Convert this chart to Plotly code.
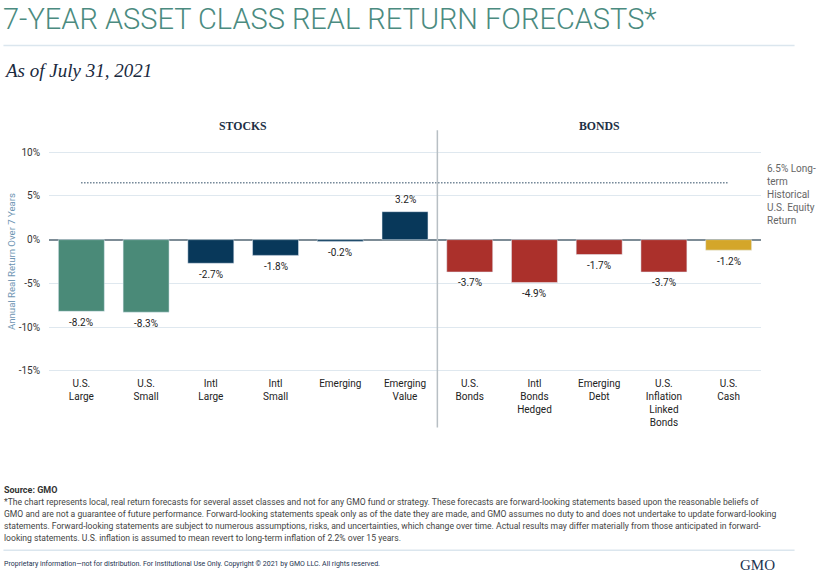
import plotly.graph_objects as go

categories = ["U.S.<br>Large", "U.S.<br>Small", "Intl<br>Large", "Intl<br>Small", "Emerging",
              "Emerging<br>Value", "U.S.<br>Bonds", "Intl<br>Bonds<br>Hedged", "Emerging<br>Debt",
              "U.S.<br>Inflation<br>Linked<br>Bonds", "U.S.<br>Cash"]
values = [-8.2, -8.3, -2.7, -1.8, -0.2, 3.2, -3.7, -4.9, -1.7, -3.7, -1.2]
bar_colors = ["#4a8a78", "#4a8a78", "#08385a", "#08385a", "#08385a", "#08385a",
              "#ab302b", "#ab302b", "#ab302b", "#ab302b", "#d4a62a"]
benchmark = 6.5
ytick_vals = [-15, -10, -5, 0, 5, 10]
ytick_text = ["-15%", "-10%", "-5%", "0%", "5%", "10%"]
group_labels = ["STOCKS", "BONDS"]
group_centers = [2.5, 8]
foot_lines = [
    "*The chart represents local, real return forecasts for several asset classes and not for any GMO fund or strategy. "
    "These forecasts are forward-looking statements based upon the reasonable beliefs of",
    "GMO and are not a guarantee of future performance. Forward-looking statements speak only as of the date they are made, "
    "and GMO assumes no duty to and does not undertake to update forward-looking",
    "statements. Forward-looking statements are subject to numerous assumptions, risks, and uncertainties, which change over time. "
    "Actual results may differ materially from those anticipated in forward-",
    "looking statements. U.S. inflation is assumed to mean revert to long-term inflation of 2.2% over 15 years.",
]

W, H = 818, 582
L, R, T, B = 48.6, 56.6, 146.7, 205.7
PW, PH = W - L - R, H - T - B


def px(x):
    return (x - L) / PW


def py(y):
    return (H - B - y) / PH


SANS = "Roboto, Arial, sans-serif"
SERIF = "Liberation Serif, serif"

fig = go.Figure()
fig.add_trace(go.Bar(
    x=categories, y=values, marker_color=bar_colors, width=0.71,
    cliponaxis=False, hoverinfo="skip"))
fig.add_trace(go.Scatter(
    x=[categories[0], categories[-1]], y=[benchmark, benchmark], mode="lines",
    line=dict(color="#2c4a62", width=1.5, dash="1px,2px"), hoverinfo="skip"))

for c, v in zip(categories, values):
    fig.add_annotation(x=c, y=v, xref="x", yref="y", text=f"{v:.1f}%", showarrow=False,
                       yanchor="middle", xanchor="center", yshift=12 if v > 0 else -11,
                       font=dict(family=SANS, size=10, color="#222"))

fig.update_layout(
    width=W, height=H, margin=dict(l=L, r=R, t=T, b=B, autoexpand=False),
    plot_bgcolor="white", paper_bgcolor="white", showlegend=False,
    font=dict(family=SANS, color="#333"),
    xaxis=dict(showgrid=False, ticks="", tickfont=dict(size=10, color="#222"),
               range=[-0.5, 10.5], tickangle=0),
    yaxis=dict(range=[-15.6, 10.6], tickvals=ytick_vals, ticktext=ytick_text,
               showgrid=True, gridcolor="#dfe8ef", gridwidth=1,
               zeroline=True, zerolinecolor="#7d8c96", zerolinewidth=1.5,
               tickfont=dict(size=10, color="#333"), ticklabelstandoff=8,
               title=dict(text="Annual Real Return Over 7 Years",
                          font=dict(size=9.6, color="#6e95b3"), standoff=1)),
)

# group separator
sep = 6 / 11
fig.add_shape(type="line", xref="paper", yref="paper", x0=sep, x1=sep,
              y0=py(130), y1=py(428), line=dict(color="#b8bfc4", width=1.5))

for lab, c in zip(group_labels, group_centers):
    fig.add_annotation(x=(c + 0.5) / 11, y=py(126), xref="paper", yref="paper",
                       xanchor="center", yanchor="middle",
                       text=f"<b>{lab}</b>", showarrow=False,
                       font=dict(family=SERIF, size=11.8, color="#1c2f45"))

fig.add_annotation(x=px(765), y=py(161), xref="paper", yref="paper", xanchor="left", yanchor="top",
                   text="6.5% Long-<br>term<br>Historical<br>U.S. Equity<br>Return", align="left",
                   showarrow=False, font=dict(size=10, color="#666"))

# header
fig.add_annotation(x=px(1), y=py(18), xref="paper", yref="paper", xanchor="left", yanchor="middle",
                   text="7-YEAR ASSET CLASS REAL RETURN FORECASTS*", showarrow=False,
                   font=dict(family=SANS, size=29, color="#4b8b80", weight=300))
fig.add_shape(type="line", xref="paper", yref="paper", x0=px(3), x1=px(795), y0=py(45), y1=py(45),
              line=dict(color="#dbe6ee", width=1.5))
fig.add_annotation(x=px(2), y=py(70), xref="paper", yref="paper", xanchor="left", yanchor="middle",
                   text="<i>As of July 31, 2021</i>", showarrow=False,
                   font=dict(family=SERIF, size=19, color="#1a2a40"))

# footer
fig.add_annotation(x=px(2), y=py(491), xref="paper", yref="paper", xanchor="left", yanchor="middle",
                   text="<b>Source: GMO</b>", showarrow=False, font=dict(size=9, color="#333"))
for i, line in enumerate(foot_lines):
    fig.add_annotation(x=px(2), y=py(503 + 12 * i), xref="paper", yref="paper", xanchor="left",
                       yanchor="middle", text=line, showarrow=False,
                       font=dict(size=8.6, color="#444"))
fig.add_shape(type="line", xref="paper", yref="paper", x0=px(3), x1=px(795), y0=py(551), y1=py(551),
              line=dict(color="#dbe6ee", width=1.5))
fig.add_annotation(x=px(2), y=py(565), xref="paper", yref="paper", xanchor="left", yanchor="middle",
                   text="Proprietary information\u2014not for distribution. For Institutional Use Only. "
                        "Copyright \u00a9 2021 by GMO LLC. All rights reserved.",
                   showarrow=False, font=dict(size=7, color="#1c3350"))
fig.add_annotation(x=px(777), y=py(566), xref="paper", yref="paper", xanchor="right", yanchor="middle",
                   text="GMO", showarrow=False,
                   font=dict(family=SERIF, size=15, color="#1c3350"))

fig.write_html("out.html", config={"displayModeBar": False},
               post_script="document.body.style.margin='0';")
